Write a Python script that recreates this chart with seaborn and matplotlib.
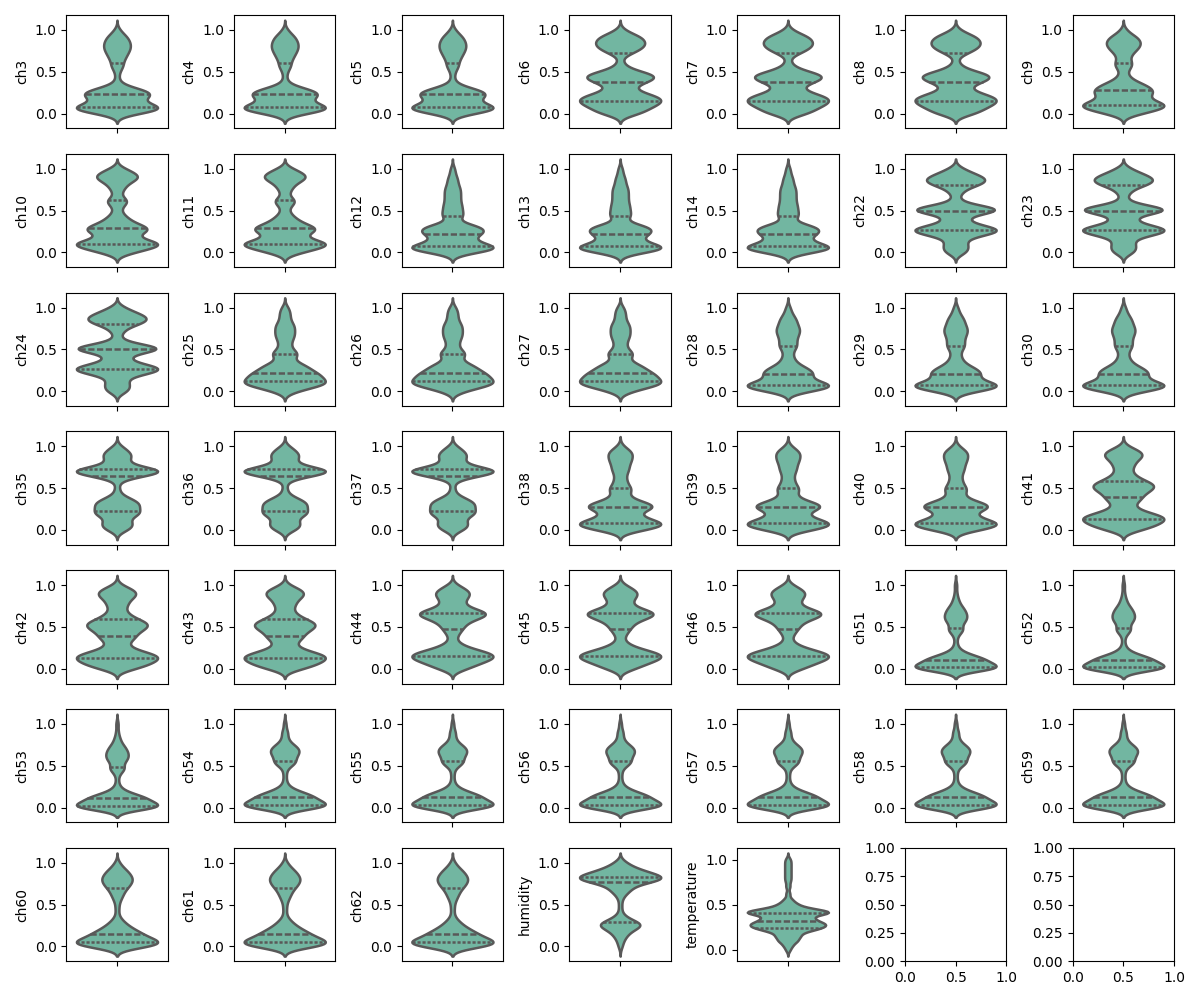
import numpy as np
import pandas as pd
import seaborn as sns
import matplotlib.pyplot as plt


# value levels and how many readings (per 100) sit at each
a_vals = [0.0, 0.04, 0.08, 0.13, 0.18, 0.23, 0.28, 0.33, 0.40, 0.48, 0.55, 0.60, 0.66, 0.72, 0.78, 0.84, 0.90, 0.95, 1.0]
a_cnts = [5, 11, 14, 8, 8, 12, 9, 3, 1, 1, 2, 2, 3, 4, 5, 5, 4, 2, 1]

b_vals = [0.0, 0.05, 0.10, 0.15, 0.20, 0.25, 0.30, 0.35, 0.38, 0.42, 0.46, 0.50, 0.55, 0.62, 0.72, 0.78, 0.84, 0.90, 0.95, 1.0]
b_cnts = [5, 6, 8, 10, 9, 5, 3, 3, 4, 7, 7, 4, 2, 1, 3, 6, 7, 6, 3, 1]

c_vals = [0.0, 0.05, 0.10, 0.15, 0.20, 0.24, 0.28, 0.33, 0.38, 0.44, 0.50, 0.55, 0.60, 0.66, 0.72, 0.78, 0.84, 0.90, 0.95, 1.0]
c_cnts = [5, 10, 14, 8, 6, 6, 8, 7, 4, 2, 1, 2, 3, 2, 3, 5, 6, 5, 2, 1]

d_vals = [0.0, 0.05, 0.10, 0.15, 0.20, 0.25, 0.29, 0.34, 0.40, 0.46, 0.52, 0.57, 0.62, 0.68, 0.74, 0.80, 0.86, 0.91, 0.96, 1.0]
d_cnts = [5, 9, 15, 7, 5, 7, 9, 6, 4, 2, 1, 2, 4, 1, 2, 3, 5, 7, 4, 2]

e_vals = [0.0, 0.04, 0.07, 0.12, 0.17, 0.22, 0.27, 0.32, 0.37, 0.43, 0.48, 0.53, 0.58, 0.64, 0.70, 0.76, 0.82, 0.88, 0.94, 1.0]
e_cnts = [6, 11, 12, 8, 6, 9, 11, 8, 1, 4, 3, 3, 3, 3, 3, 3, 2, 2, 1, 1]

f_vals = [0.0, 0.05, 0.10, 0.15, 0.20, 0.24, 0.27, 0.31, 0.36, 0.41, 0.46, 0.50, 0.54, 0.59, 0.65, 0.72, 0.76, 0.80, 0.85, 0.90, 0.95, 1.0]
f_cnts = [3, 3, 3, 2, 5, 7, 9, 7, 3, 3, 3, 12, 8, 2, 1, 2, 1, 5, 8, 7, 4, 2]

g_vals = [0.0, 0.05, 0.09, 0.12, 0.16, 0.19, 0.22, 0.27, 0.32, 0.37, 0.41, 0.45, 0.50, 0.55, 0.60, 0.65, 0.70, 0.75, 0.80, 0.86, 0.92, 0.97, 1.0]
g_cnts = [4, 8, 10, 9, 8, 6, 8, 8, 6, 2, 2, 5, 2, 2, 2, 3, 3, 3, 3, 2, 2, 1, 1]

h_vals = [0.0, 0.04, 0.07, 0.11, 0.15, 0.20, 0.25, 0.30, 0.36, 0.42, 0.48, 0.54, 0.60, 0.65, 0.70, 0.75, 0.80, 0.85, 0.90, 0.95, 1.0]
h_cnts = [6, 10, 13, 8, 6, 9, 8, 5, 3, 2, 2, 4, 3, 3, 4, 4, 3, 3, 2, 1, 1]

i_vals = [0.0, 0.04, 0.08, 0.12, 0.17, 0.20, 0.23, 0.28, 0.33, 0.38, 0.44, 0.50, 0.58, 0.64, 0.68, 0.71, 0.725, 0.77, 0.82, 0.87, 0.91, 0.96, 1.0]
i_cnts = [3, 4, 4, 3, 4, 5, 5, 7, 7, 4, 1, 1, 1, 6, 9, 10, 6, 5, 3, 4, 4, 3, 1]

j_vals = [0.0, 0.04, 0.08, 0.13, 0.18, 0.23, 0.28, 0.33, 0.38, 0.43, 0.47, 0.50, 0.55, 0.60, 0.66, 0.72, 0.78, 0.84, 0.90, 0.95, 1.0]
j_cnts = [6, 9, 13, 8, 5, 6, 12, 7, 3, 2, 2, 3, 2, 2, 2, 3, 3, 4, 4, 3, 1]

k_vals = [0.0, 0.04, 0.08, 0.13, 0.17, 0.21, 0.26, 0.31, 0.35, 0.39, 0.44, 0.49, 0.54, 0.59, 0.64, 0.69, 0.74, 0.79, 0.85, 0.90, 0.95, 1.0]
k_cnts = [4, 5, 8, 10, 7, 5, 3, 2, 3, 4, 5, 7, 8, 5, 3, 2, 2, 3, 4, 5, 4, 1]

l_vals = [0.0, 0.05, 0.10, 0.15, 0.20, 0.25, 0.30, 0.36, 0.42, 0.48, 0.53, 0.58, 0.63, 0.67, 0.71, 0.76, 0.81, 0.86, 0.91, 0.96, 1.0]
l_cnts = [4, 6, 9, 12, 9, 4, 2, 1, 2, 3, 3, 5, 8, 8, 5, 3, 3, 4, 5, 3, 1]

m_vals = [0.0, 0.01, 0.02, 0.05, 0.08, 0.11, 0.14, 0.18, 0.23, 0.30, 0.38, 0.43, 0.47, 0.55, 0.60, 0.65, 0.70, 0.75, 0.82, 0.90, 1.0]
m_cnts = [12, 8, 8, 8, 8, 9, 8, 4, 2, 1, 1, 1, 5, 4, 5, 5, 4, 3, 2, 1, 1]

n_vals = [0.0, 0.015, 0.03, 0.06, 0.09, 0.125, 0.16, 0.20, 0.25, 0.32, 0.40, 0.47, 0.52, 0.55, 0.60, 0.65, 0.70, 0.75, 0.82, 0.90, 1.0]
n_cnts = [8, 8, 10, 8, 8, 9, 8, 4, 2, 1, 1, 1, 3, 4, 4, 6, 6, 4, 2, 2, 1]

o_vals = [0.0, 0.03, 0.05, 0.08, 0.11, 0.15, 0.19, 0.24, 0.30, 0.37, 0.45, 0.52, 0.58, 0.64, 0.70, 0.75, 0.80, 0.85, 0.90, 0.95, 1.0]
o_cnts = [10, 9, 8, 9, 7, 8, 6, 5, 3, 1, 1, 1, 2, 3, 4, 5, 6, 5, 4, 2, 1]

humidity_vals = [0.0, 0.05, 0.10, 0.15, 0.20, 0.25, 0.29, 0.34, 0.40, 0.48, 0.56, 0.62, 0.67, 0.72, 0.77, 0.80, 0.83, 0.87, 0.91, 0.95, 1.0]
humidity_cnts = [1, 1, 2, 3, 5, 9, 6, 3, 1, 1, 1, 2, 4, 5, 8, 10, 14, 10, 7, 4, 3]

temperature_vals = [0.0, 0.05, 0.10, 0.15, 0.20, 0.24, 0.28, 0.32, 0.36, 0.41, 0.45, 0.50, 0.55, 0.62, 0.70, 0.76, 0.80, 0.84, 0.88, 0.92, 0.96, 1.0]
temperature_cnts = [1, 2, 4, 5, 6, 11, 13, 9, 8, 17, 9, 4, 2, 1, 1, 1, 1, 1, 1, 1, 1, 1]

channels = ["ch3", "ch4", "ch5", "ch6", "ch7", "ch8", "ch9",
            "ch10", "ch11", "ch12", "ch13", "ch14", "ch22", "ch23",
            "ch24", "ch25", "ch26", "ch27", "ch28", "ch29", "ch30",
            "ch35", "ch36", "ch37", "ch38", "ch39", "ch40", "ch41",
            "ch42", "ch43", "ch44", "ch45", "ch46", "ch51", "ch52",
            "ch53", "ch54", "ch55", "ch56", "ch57", "ch58", "ch59",
            "ch60", "ch61", "ch62", "humidity", "temperature"]
shapes = ["a", "a", "a", "b", "b", "b", "c",
          "d", "d", "e", "e", "e", "f", "f",
          "f", "g", "g", "g", "h", "h", "h",
          "i", "i", "i", "j", "j", "j", "k",
          "k", "k", "l", "l", "l", "m", "m",
          "m", "n", "n", "n", "n", "n", "n",
          "o", "o", "o", "humidity", "temperature"]

levels = {
    "a": (a_vals, a_cnts), "b": (b_vals, b_cnts), "c": (c_vals, c_cnts),
    "d": (d_vals, d_cnts), "e": (e_vals, e_cnts), "f": (f_vals, f_cnts),
    "g": (g_vals, g_cnts), "h": (h_vals, h_cnts), "i": (i_vals, i_cnts),
    "j": (j_vals, j_cnts), "k": (k_vals, k_cnts), "l": (l_vals, l_cnts),
    "m": (m_vals, m_cnts), "n": (n_vals, n_cnts), "o": (o_vals, o_cnts),
    "humidity": (humidity_vals, humidity_cnts),
    "temperature": (temperature_vals, temperature_cnts),
}

green = sns.color_palette("Set2")[0]

fig, axes = plt.subplots(7, 7, figsize=(12, 10))

for ax, name, key in zip(axes.flat, channels, shapes):
    vals, cnts = levels[key]
    s = pd.Series(np.repeat(vals, cnts), name=name)
    bw = 0.028 if name == "temperature" else 0.045
    sns.violinplot(y=s, ax=ax, color=green, inner="quartile",
                   bw_method=bw / s.std(), cut=2.6, linewidth=1.8)

plt.tight_layout()
plt.savefig("out.png", dpi=100)
